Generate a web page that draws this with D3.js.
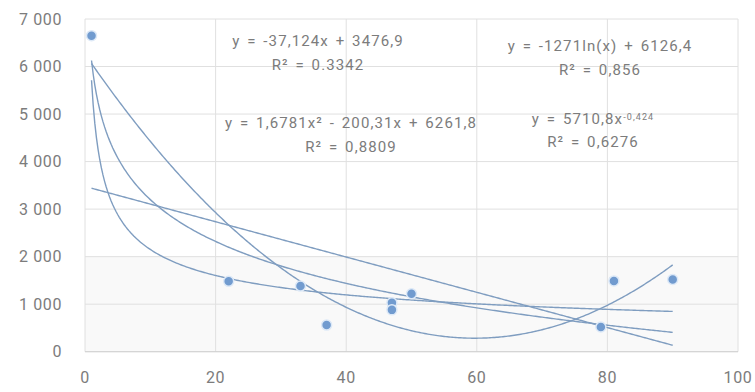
<!DOCTYPE html>
<html>
<head>
<meta charset="utf-8">
<script src="https://cdn.jsdelivr.net/npm/d3@7"></script>
<style>
  body { margin: 0; background: #fff; }
  text { font-family: Roboto, "Noto Sans", sans-serif; fill: #7c7c7c; }
</style>
</head>
<body>
<div id="chart"></div>
<script>
// scatter points
var xs = [1, 22, 33, 37, 47, 47, 50, 79, 81, 90];
var ys = [6650, 1480, 1380, 560, 1030, 880, 1220, 520, 1490, 1520];

// axis ticks
var xTicks = [0, 20, 40, 60, 80, 100];
var yTicks = [0, 1000, 2000, 3000, 4000, 5000, 6000, 7000];

// trendline coefficients (as printed on chart)
var linCoef = [-37.124, 3476.9];
var polyCoef = [1.6781, -200.31, 6261.8];
var logCoef = [-1271, 6126.4];
var powCoef = [5710.8, -0.424];

// labels
var labelLines = [
  ["y = -37,124x + 3476,9", "R² = 0.3342"],
  ["y = 1,6781x² - 200,31x + 6261,8", "R² = 0,8809"],
  ["y = -1271ln(x) + 6126,4", "R² = 0,856"],
  ["y = 5710,8x", "R² = 0,6276"]
];
var labelAt = [[318, 41], [351, 123], [600, 46], [593, 119]];

var W = 755, H = 392;
var svg = d3.select('#chart').append('svg')
    .attr('width', W)
    .attr('height', H);

var x = d3.scaleLinear().domain([0, 100]).range([85, 738]);
var y = d3.scaleLinear().domain([0, 7000]).range([351.7, 19]);

// light lower band like the original
svg.append('rect')
  .attr('x', x(0)).attr('y', y(2000))
  .attr('width', x(100) - x(0)).attr('height', y(0) - y(2000))
  .style('fill', '#f9f9f9');

// grid
svg.selectAll('.hg').data(yTicks).enter().append('line')
  .attr('x1', x(0)).attr('x2', x(100))
  .attr('y1', d => y(d)).attr('y2', d => y(d))
  .style('stroke', '#e0e0e0').style('stroke-width', 1);
svg.selectAll('.vg').data(xTicks).enter().append('line')
  .attr('y1', y(0)).attr('y2', y(7000))
  .attr('x1', d => x(d)).attr('x2', d => x(d))
  .style('stroke', '#e0e0e0').style('stroke-width', 1);

// axis line
svg.append('line')
  .attr('x1', x(0)).attr('x2', x(100))
  .attr('y1', y(0)).attr('y2', y(0))
  .style('stroke', '#d0d0d0');

// tick labels
var fmt = d => d3.format(',')(d).replace(',', ' ');
svg.selectAll('.yl').data(yTicks).enter().append('text')
  .attr('x', 62).attr('y', d => y(d))
  .attr('dy', '0.36em')
  .attr('text-anchor', 'end')
  .style('font-size', '16px')
  .style('letter-spacing', '0.6px')
  .text(fmt);
svg.selectAll('.xl').data(xTicks).enter().append('text')
  .attr('x', d => x(d)).attr('y', 377)
  .attr('dy', '0.36em')
  .attr('text-anchor', 'middle')
  .style('font-size', '16px')
  .style('letter-spacing', '0.6px')
  .text(d => d);

// trendlines
var fns = [
  t => linCoef[0] * t + linCoef[1],
  t => polyCoef[0] * t * t + polyCoef[1] * t + polyCoef[2],
  t => logCoef[0] * Math.log(t) + logCoef[1],
  t => powCoef[0] * Math.pow(t, powCoef[1])
];
var xmin = d3.min(xs), xmax = d3.max(xs);
var samp = d3.range(xmin, xmax + 0.001, 0.25);
var line = d3.line().x(d => x(d[0])).y(d => y(d[1]));
fns.forEach(function(f) {
  svg.append('path')
    .datum(samp.map(t => [t, f(t)]))
    .attr('d', line)
    .style('fill', 'none')
    .style('stroke', '#7f9dc0')
    .style('stroke-width', 1.4);
});

// points
svg.selectAll('.pt').data(xs).enter().append('circle')
  .attr('cx', d => x(d))
  .attr('cy', (d, i) => y(ys[i]))
  .attr('r', 5)
  .style('fill', '#719bcf')
  .style('stroke', '#dde9f7')
  .style('stroke-width', 1.5);

// equation labels
labelLines.forEach(function(l, i) {
  var t = svg.append('text')
    .attr('x', labelAt[i][0]).attr('y', labelAt[i][1])
    .attr('text-anchor', 'middle')
    .style('font-size', '15px')
    .style('letter-spacing', '1.1px')
    .style('word-spacing', '2px');
  t.append('tspan').attr('x', labelAt[i][0]).attr('dy', '0.36em').text(l[0]);
  if (i == 3) {
    t.append('tspan').attr('dy', '-0.45em').style('font-size', '9px').text('-0,424');
    t.append('tspan').attr('x', labelAt[i][0]).attr('dy', '1.75em').text(l[1]);
  } else {
    t.append('tspan').attr('x', labelAt[i][0]).attr('dy', '1.6em').text(l[1]);
  }
});
</script>
</body>
</html>
